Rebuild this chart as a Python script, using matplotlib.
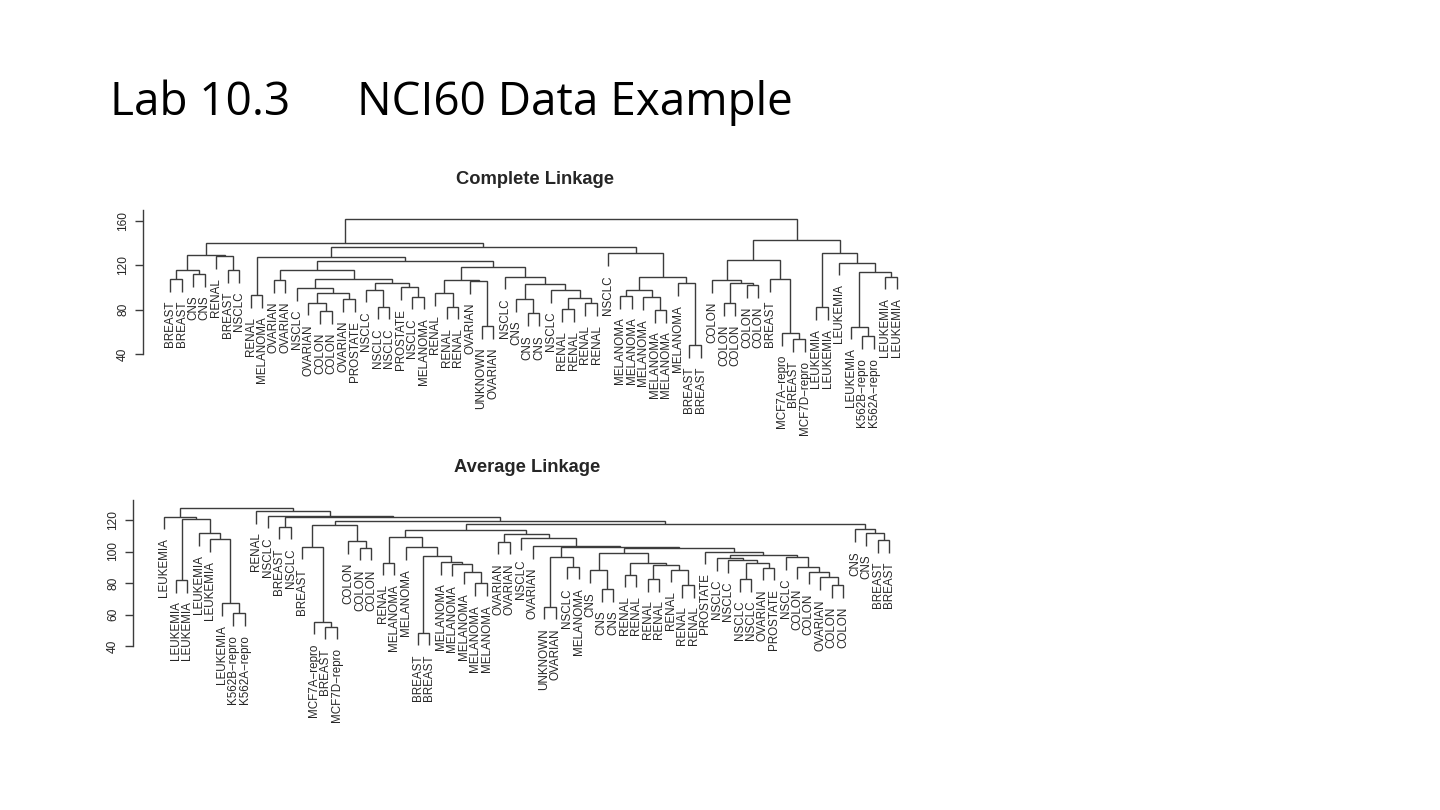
import matplotlib
matplotlib.use("Agg")
import matplotlib.pyplot as plt

# ---------------- data ----------------
complete_labels = [
    "BREAST", "BREAST", "CNS", "CNS", "RENAL", "BREAST", "NSCLC", "RENAL",
    "MELANOMA", "OVARIAN", "OVARIAN", "NSCLC", "OVARIAN", "COLON", "COLON", "OVARIAN",
    "PROSTATE", "NSCLC", "NSCLC", "NSCLC", "PROSTATE", "NSCLC", "MELANOMA", "RENAL",
    "RENAL", "RENAL", "OVARIAN", "UNKNOWN", "OVARIAN", "NSCLC", "CNS", "CNS",
    "CNS", "NSCLC", "RENAL", "RENAL", "RENAL", "RENAL", "NSCLC", "MELANOMA",
    "MELANOMA", "MELANOMA", "MELANOMA", "MELANOMA", "MELANOMA", "BREAST", "BREAST", "COLON",
    "COLON", "COLON", "COLON", "COLON", "BREAST", "MCF7A\u2212repro", "BREAST", "MCF7D\u2212repro",
    "LEUKEMIA", "LEUKEMIA", "LEUKEMIA", "LEUKEMIA", "K562B\u2212repro", "K562A\u2212repro", "LEUKEMIA", "LEUKEMIA",
]

# merge table (R hclust style): negative = leaf position, positive = earlier row
complete_merge_a = [-1, -3, 1, -6, -5, 3, -8, -10, -14, -13, -16, 10, -12, -19, -18, -22,
                    -21, 15, 13, 8, -25, -24, -28, -27, 22, -32, -31, -35, -37, 28, -34, 27,
                    -30, 25, 20, 7, -40, -43, -42, 37, -46, -45, 40, -39, 36, 6, -49, -51,
                    47, -48, -55, -54, -53, 50, -57, -61, -60, -63, 57, -59, 55, 54, 46]
complete_merge_b = [-2, -4, 2, -7, 4, 5, -9, -11, -15, 9, -17, 11, 12, -20, 14, -23,
                    16, 17, 18, 19, -26, 21, -29, 23, 24, -33, 26, -36, -38, 29, 30, 31,
                    32, 33, 34, 35, -41, -44, 38, 39, -47, 41, 42, 43, 44, 45, -50, -52,
                    48, 49, -56, 51, 52, 53, -58, -62, 56, -64, 58, 59, 60, 61, 62]
complete_heights = [107.4, 112.2, 115.8, 115.5, 128.4, 129.3, 93.2, 106.8, 78.8, 86.3, 89.6, 94.7,
                    99.3, 82.7, 98.0, 91.7, 100.2, 103.8, 107.5, 115.8, 82.7, 94.7, 65.3, 105.9,
                    106.8, 76.7, 89.6, 80.3, 85.7, 90.2, 97.8, 102.9, 109.8, 118.8, 123.9, 127.4,
                    92.3, 79.7, 91.1, 97.8, 48.1, 103.8, 109.2, 130.8, 136.9, 140.5, 85.7, 102.3,
                    103.8, 106.8, 53.2, 58.6, 107.4, 124.8, 82.1, 56.2, 64.7, 109.8, 114.3, 122.4,
                    130.8, 142.9, 161.5]

average_labels = [
    "LEUKEMIA", "LEUKEMIA", "LEUKEMIA", "LEUKEMIA", "LEUKEMIA", "LEUKEMIA", "K562B\u2212repro", "K562A\u2212repro",
    "RENAL", "NSCLC", "BREAST", "NSCLC", "BREAST", "MCF7A\u2212repro", "BREAST", "MCF7D\u2212repro",
    "COLON", "COLON", "COLON", "RENAL", "MELANOMA", "MELANOMA", "BREAST", "BREAST",
    "MELANOMA", "MELANOMA", "MELANOMA", "MELANOMA", "MELANOMA", "OVARIAN", "OVARIAN", "NSCLC",
    "OVARIAN", "UNKNOWN", "OVARIAN", "NSCLC", "MELANOMA", "CNS", "CNS", "CNS",
    "RENAL", "RENAL", "RENAL", "RENAL", "RENAL", "RENAL", "RENAL", "PROSTATE",
    "NSCLC", "NSCLC", "NSCLC", "NSCLC", "OVARIAN", "PROSTATE", "NSCLC", "COLON",
    "COLON", "OVARIAN", "COLON", "COLON", "CNS", "CNS", "BREAST", "BREAST",
]
average_merge_a = [-7, -6, -5, -4, -2, 5, -1, -15, -14, -13, -18, -17, 10, -20, -23, -28,
                   -27, -26, -25, 15, -22, 14, -30, -34, -36, 24, -39, -38, -41, -43, -46, -45,
                   30, 29, 28, -51, -53, 36, -50, -49, -59, -58, -57, -56, -55, 40, -48, 35,
                   26, -33, -32, 23, 22, -63, -62, -61, 53, 13, -11, 59, -10, -9, 7]
average_merge_b = [-8, 1, 2, 3, -3, 4, 6, -16, 8, 9, -19, 11, 12, -21, -24, -29,
                   16, 17, 18, 19, 20, 21, -31, -35, -37, 25, -40, 27, -42, -44, -47, 31,
                   32, 33, 34, -52, -54, 37, 38, 39, -60, 41, 42, 43, 44, 45, 46, 47,
                   48, 49, 50, 51, 52, -64, 54, 55, 56, 57, -12, 58, 60, 61, 62]
average_heights = [60.7, 67.1, 107.8, 111.6, 81.9, 120.5, 122.2, 52.3, 55.4, 103.0, 102.3, 106.5,
                   116.8, 93.0, 48.5, 79.8, 87.2, 92.2, 93.3, 97.3, 102.6, 109.0, 106.2, 65.0,
                   90.3, 96.2, 76.0, 88.0, 85.1, 82.5, 78.7, 88.3, 91.4, 92.5, 99.2, 82.3,
                   89.6, 92.9, 94.6, 95.7, 78.7, 83.5, 87.2, 90.3, 96.5, 97.6, 99.8, 102.0,
                   102.6, 103.2, 108.6, 110.9, 113.7, 107.3, 111.6, 114.0, 117.3, 119.4, 115.7, 121.7,
                   122.7, 125.7, 127.9]

complete_yticks = [40, 80, 120, 160]
average_yticks = [40, 60, 80, 100, 120]

# ---------------- style ----------------
W, H = 1440, 810
LINE_C = "#3c3c3c"
TEXT_C = "#262626"
CHART_FONT = ["Liberation Sans", "DejaVu Sans"]

fig = plt.figure(figsize=(W / 100, H / 100), dpi=100)
fig.patch.set_facecolor("white")


def px_axes(left, right, top, bottom):
    return fig.add_axes([left / W, 1 - bottom / H, (right - left) / W, (bottom - top) / H])


def draw_dendro(ax, labels, ma, mb, hts, label_size=8.4):
    hang = 0.1 * (max(hts) - min(hts))
    nodes = {}

    def child(ref, ph):
        if ref < 0:
            return float(-ref), ph - hang, True
        x, h = nodes[ref]
        return x, h, False

    for i, (a, b, h) in enumerate(zip(ma, mb, hts), start=1):
        xa, ya, la = child(a, h)
        xb, yb, lb = child(b, h)
        ax.plot([xa, xa, xb, xb], [ya, h, h, yb], color=LINE_C, lw=1.0,
                solid_capstyle="butt", solid_joinstyle="miter", clip_on=False)
        for leaf, x, y, ref in ((la, xa, ya, a), (lb, xb, yb, b)):
            if leaf:
                ax.annotate(labels[-ref - 1], xy=(x, y), xytext=(0, -6.5),
                            textcoords="offset points", rotation=90,
                            ha="center", va="top", fontsize=label_size,
                            color=TEXT_C, family=CHART_FONT, annotation_clip=False)
        nodes[i] = ((xa + xb) / 2.0, h)


def style_axes(ax, yticks, ylim, xlim):
    ax.set_xlim(*xlim)
    ax.set_ylim(*ylim)
    for s in ("top", "right", "bottom"):
        ax.spines[s].set_visible(False)
    ax.spines["left"].set_color(LINE_C)
    ax.spines["left"].set_linewidth(1.0)
    ax.set_xticks([])
    ax.set_yticks(yticks)
    ax.set_yticklabels([str(t) for t in yticks], rotation=90, va="center",
                       fontsize=8.6, color=TEXT_C, family=CHART_FONT)
    ax.tick_params(axis="y", length=6, width=1.0, color=LINE_C, pad=4)
    ax.patch.set_visible(False)


# Complete linkage panel
ax1 = px_axes(143, 910, 210, 354)
style_axes(ax1, complete_yticks, (40, 170), (-1.34, 65.13))
draw_dendro(ax1, complete_labels, complete_merge_a, complete_merge_b, complete_heights)
fig.text(535.5 / W, 1 - 180 / H, "Complete Linkage", ha="center", va="center",
         fontsize=13.2, fontweight="bold", color=TEXT_C, family=CHART_FONT)

# Average linkage panel
ax2 = px_axes(133, 900, 500, 646)
style_axes(ax2, average_yticks, (40, 132.7), (-1.72, 64.92))
draw_dendro(ax2, average_labels, average_merge_a, average_merge_b, average_heights)
fig.text(527 / W, 1 - 468 / H, "Average Linkage", ha="center", va="center",
         fontsize=13.2, fontweight="bold", color=TEXT_C, family=CHART_FONT)

# Slide title
fig.text(110 / W, 1 - 115 / H, "Lab 10.3", ha="left", va="baseline",
         fontsize=33, color="#000000", family=["Open Sans", "DejaVu Sans"])
fig.text(357 / W, 1 - 115 / H, "NCI60 Data Example", ha="left", va="baseline",
         fontsize=33, color="#000000", family=["Open Sans", "DejaVu Sans"])

fig.savefig("out.png", dpi=100, facecolor="white")
